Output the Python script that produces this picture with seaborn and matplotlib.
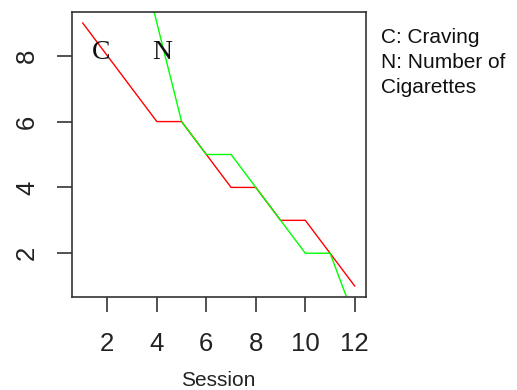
import matplotlib
matplotlib.use("Agg")
import matplotlib.pyplot as plt
import seaborn as sns
import pandas as pd

sessions = [1, 2, 3, 4, 5, 6, 7, 8, 9, 10, 11, 12]
craving = [9, 8, 7, 6, 6, 5, 4, 4, 3, 3, 2, 1]
cigarettes = [18, 15, 12, 9, 6, 5, 5, 4, 3, 2, 2, 0]
x_ticks = [2, 4, 6, 8, 10, 12]
y_ticks = [2, 4, 6, 8]

df = pd.DataFrame({
    "Session": sessions * 2,
    "Value": craving + cigarettes,
    "Series": ["Craving"] * len(sessions) + ["Cigarettes"] * len(sessions),
})

sns.set_style("white")
plt.rcParams["font.family"] = ["Liberation Sans", "DejaVu Sans"]

fig = plt.figure(figsize=(5.17, 3.90), dpi=100)
ax = fig.add_axes([71.7 / 517, 1 - 296.7 / 390, (365.7 - 71.7) / 517, (296.7 - 12.3) / 390])

sns.lineplot(data=df, x="Session", y="Value", hue="Series",
             palette={"Craving": "#FF0000", "Cigarettes": "#00FF00"},
             hue_order=["Craving", "Cigarettes"],
             linewidth=1.0, legend=False, ax=ax, clip_on=True)

ax.set_xlim(0.56, 12.44)
ax.set_ylim(0.68, 9.32)
ax.set_xticks(x_ticks)
ax.set_yticks(y_ticks)
ax.set_xticklabels([str(t) for t in x_ticks], fontsize=18.5)
ax.set_yticklabels([str(t) for t in y_ticks], fontsize=18.5, rotation=90, va="center")
ax.tick_params(axis="x", bottom=True, direction="out", length=10.5, width=1.2, color="#333333", pad=15, labelcolor="#222222")
ax.tick_params(axis="y", left=True, direction="out", length=10.5, width=1.2, color="#333333", pad=13, labelcolor="#222222")
for s in ax.spines.values():
    s.set_visible(True)
    s.set_color("#333333")
    s.set_linewidth(1.2)

ax.set_xlabel("Session", fontsize=15, color="#222222", labelpad=11)
ax.set_ylabel("")

ax.text(1.76, 8.1, "C", family="Liberation Serif", fontsize=20, ha="center", va="center", color="#111111")
ax.text(4.2, 8.1, "N", family="Liberation Serif", fontsize=20, ha="center", va="center", color="#111111")

fig.text(381 / 517, 1 - 43 / 390, "C: Craving", fontsize=15, color="#111111", ha="left", va="baseline")
fig.text(381 / 517, 1 - 68 / 390, "N: Number of", fontsize=15, color="#111111", ha="left", va="baseline")
fig.text(381 / 517, 1 - 93 / 390, "Cigarettes", fontsize=15, color="#111111", ha="left", va="baseline")

fig.savefig("out.png", dpi=100, facecolor="white")
